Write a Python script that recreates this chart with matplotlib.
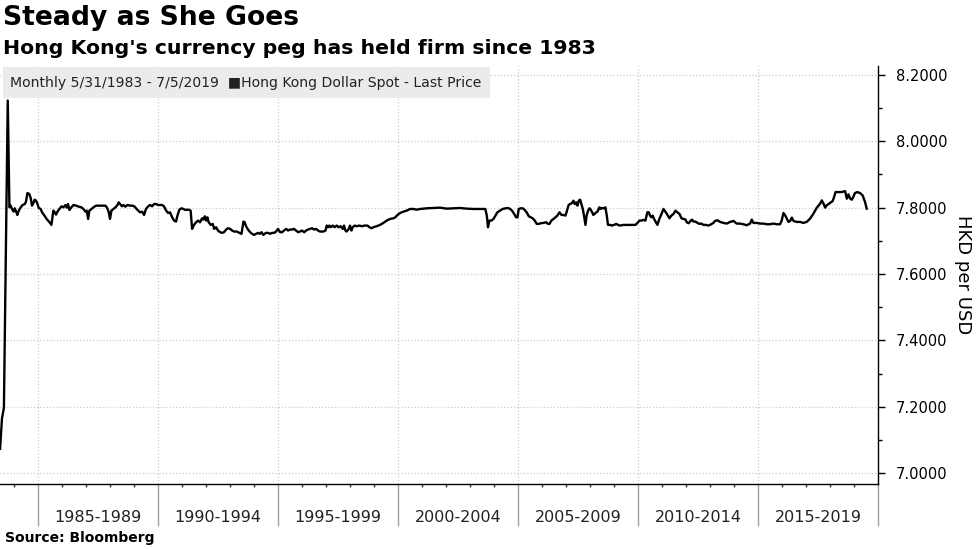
import numpy as np
import matplotlib.pyplot as plt
import matplotlib.ticker as mticker
from matplotlib.patches import Rectangle
from matplotlib.transforms import blended_transform_factory

W, H = 977, 549  # output size in pixels

# Monthly HKD per USD as (year, value)
p1983 = [(1983.42, 7.073), (1983.50, 7.165), (1983.58, 7.197), (1983.74, 8.123), (1983.81, 7.801),
         (1983.86, 7.806), (1983.92, 7.796), (1983.98, 7.788), (1984.03, 7.798), (1984.09, 7.788),
         (1984.14, 7.778), (1984.20, 7.791), (1984.28, 7.801), (1984.36, 7.808), (1984.45, 7.811),
         (1984.50, 7.818), (1984.56, 7.844), (1984.64, 7.841), (1984.70, 7.828), (1984.75, 7.806),
         (1984.81, 7.814), (1984.86, 7.824), (1984.92, 7.821), (1984.98, 7.811)]
p1985 = [(1985.03, 7.799), (1985.11, 7.796), (1985.17, 7.786), (1985.25, 7.778), (1985.36, 7.766),
         (1985.48, 7.756), (1985.56, 7.748), (1985.64, 7.791), (1985.70, 7.786), (1985.75, 7.779),
         (1985.81, 7.788), (1985.89, 7.796), (1985.98, 7.804), (1986.06, 7.801), (1986.14, 7.808),
         (1986.20, 7.800), (1986.25, 7.811), (1986.31, 7.793), (1986.39, 7.801), (1986.48, 7.808),
         (1986.59, 7.806), (1986.70, 7.803), (1986.81, 7.801), (1986.89, 7.796), (1986.98, 7.788),
         (1987.03, 7.791), (1987.09, 7.766), (1987.14, 7.791), (1987.23, 7.796), (1987.31, 7.801),
         (1987.42, 7.806), (1987.59, 7.806), (1987.81, 7.806), (1987.89, 7.798), (1987.95, 7.786),
         (1988.00, 7.766), (1988.06, 7.791), (1988.14, 7.796), (1988.23, 7.801), (1988.31, 7.808),
         (1988.36, 7.816), (1988.45, 7.808), (1988.50, 7.804), (1988.56, 7.808), (1988.64, 7.803),
         (1988.73, 7.808), (1988.84, 7.806), (1988.95, 7.806), (1989.03, 7.803), (1989.11, 7.796),
         (1989.25, 7.786), (1989.34, 7.788), (1989.42, 7.778), (1989.50, 7.796), (1989.59, 7.804),
         (1989.67, 7.808), (1989.75, 7.804), (1989.84, 7.811), (1989.92, 7.811)]
p1990 = [(1990.00, 7.808), (1990.09, 7.808), (1990.17, 7.808), (1990.25, 7.804), (1990.34, 7.791),
         (1990.42, 7.784), (1990.50, 7.786), (1990.59, 7.771), (1990.67, 7.761), (1990.75, 7.758),
         (1990.81, 7.776), (1990.89, 7.794), (1990.98, 7.798), (1991.06, 7.796), (1991.14, 7.793),
         (1991.23, 7.794), (1991.31, 7.793), (1991.36, 7.791), (1991.42, 7.736), (1991.50, 7.748),
         (1991.59, 7.756), (1991.67, 7.761), (1991.75, 7.756), (1991.84, 7.768), (1991.89, 7.764),
         (1991.95, 7.774), (1992.00, 7.761), (1992.06, 7.771), (1992.11, 7.756), (1992.20, 7.748),
         (1992.28, 7.751), (1992.34, 7.736), (1992.42, 7.741), (1992.50, 7.731), (1992.59, 7.726),
         (1992.67, 7.724), (1992.75, 7.726), (1992.84, 7.734), (1992.92, 7.738), (1993.00, 7.736),
         (1993.09, 7.731), (1993.17, 7.728), (1993.28, 7.728), (1993.39, 7.724), (1993.48, 7.721),
         (1993.56, 7.758), (1993.61, 7.756), (1993.67, 7.744), (1993.75, 7.734), (1993.84, 7.726),
         (1993.92, 7.721), (1994.00, 7.718), (1994.09, 7.721), (1994.17, 7.724), (1994.25, 7.721),
         (1994.31, 7.726), (1994.39, 7.718), (1994.50, 7.724), (1994.59, 7.724), (1994.67, 7.721),
         (1994.75, 7.724), (1994.84, 7.724), (1994.92, 7.728)]
p1995 = [(1995.00, 7.736), (1995.09, 7.726), (1995.17, 7.726), (1995.25, 7.731), (1995.34, 7.736),
         (1995.42, 7.731), (1995.50, 7.734), (1995.59, 7.734), (1995.67, 7.736), (1995.75, 7.731),
         (1995.84, 7.726), (1995.92, 7.728), (1996.00, 7.731), (1996.09, 7.726), (1996.17, 7.731),
         (1996.25, 7.734), (1996.34, 7.736), (1996.42, 7.738), (1996.50, 7.734), (1996.59, 7.736),
         (1996.67, 7.731), (1996.75, 7.728), (1996.89, 7.728), (1996.98, 7.731), (1997.03, 7.746),
         (1997.09, 7.741), (1997.14, 7.746), (1997.20, 7.741), (1997.28, 7.746), (1997.36, 7.741),
         (1997.45, 7.746), (1997.53, 7.741), (1997.61, 7.744), (1997.70, 7.736), (1997.75, 7.746),
         (1997.81, 7.731), (1997.86, 7.728), (1997.95, 7.736), (1998.00, 7.746), (1998.06, 7.731),
         (1998.11, 7.741), (1998.20, 7.746), (1998.28, 7.744), (1998.39, 7.746), (1998.50, 7.744),
         (1998.61, 7.746), (1998.73, 7.746), (1998.81, 7.741), (1998.89, 7.738), (1998.98, 7.741),
         (1999.11, 7.744), (1999.25, 7.748), (1999.39, 7.754), (1999.53, 7.761), (1999.67, 7.766),
         (1999.81, 7.768), (1999.89, 7.771)]
p2000 = [(1999.98, 7.778), (2000.09, 7.784), (2000.23, 7.788), (2000.36, 7.791), (2000.50, 7.796),
         (2000.64, 7.796), (2000.78, 7.794), (2000.92, 7.796), (2001.20, 7.798), (2001.48, 7.799),
         (2001.75, 7.800), (2002.03, 7.797), (2002.31, 7.798), (2002.59, 7.799), (2002.86, 7.797),
         (2003.14, 7.796), (2003.42, 7.796), (2003.64, 7.796), (2003.70, 7.776), (2003.75, 7.741),
         (2003.81, 7.761), (2003.89, 7.761), (2003.98, 7.766), (2004.06, 7.776), (2004.14, 7.786),
         (2004.25, 7.791), (2004.36, 7.796), (2004.48, 7.798), (2004.59, 7.799), (2004.67, 7.796),
         (2004.75, 7.791), (2004.84, 7.781), (2004.92, 7.771), (2004.98, 7.771)]
p2005 = [(2005.03, 7.796), (2005.11, 7.798), (2005.20, 7.798), (2005.28, 7.793), (2005.36, 7.786),
         (2005.45, 7.774), (2005.53, 7.771), (2005.61, 7.768), (2005.70, 7.761), (2005.78, 7.751),
         (2005.86, 7.751), (2005.95, 7.753), (2006.06, 7.754), (2006.17, 7.756), (2006.25, 7.751),
         (2006.31, 7.751), (2006.39, 7.761), (2006.48, 7.766), (2006.56, 7.771), (2006.64, 7.776),
         (2006.73, 7.786), (2006.81, 7.778), (2006.89, 7.778), (2006.98, 7.776), (2007.06, 7.796),
         (2007.11, 7.808), (2007.17, 7.811), (2007.25, 7.814), (2007.31, 7.821), (2007.36, 7.811),
         (2007.42, 7.816), (2007.48, 7.806), (2007.53, 7.821), (2007.59, 7.824), (2007.64, 7.811),
         (2007.70, 7.796), (2007.75, 7.776), (2007.81, 7.748), (2007.86, 7.776), (2007.92, 7.791),
         (2007.98, 7.798), (2008.03, 7.794), (2008.09, 7.786), (2008.14, 7.778), (2008.23, 7.784),
         (2008.31, 7.788), (2008.39, 7.801), (2008.45, 7.796), (2008.50, 7.799), (2008.59, 7.798),
         (2008.64, 7.801), (2008.70, 7.776), (2008.75, 7.748), (2008.84, 7.748), (2008.92, 7.746),
         (2009.00, 7.748), (2009.09, 7.751), (2009.17, 7.748), (2009.25, 7.746), (2009.39, 7.748),
         (2009.53, 7.748), (2009.67, 7.748), (2009.81, 7.748), (2009.89, 7.748)]
p2010 = [(2009.98, 7.754), (2010.06, 7.761), (2010.14, 7.761), (2010.23, 7.763), (2010.31, 7.761),
         (2010.39, 7.786), (2010.45, 7.786), (2010.50, 7.776), (2010.56, 7.771), (2010.61, 7.776),
         (2010.67, 7.766), (2010.75, 7.756), (2010.81, 7.748), (2010.89, 7.766), (2010.98, 7.781),
         (2011.06, 7.796), (2011.14, 7.788), (2011.23, 7.778), (2011.31, 7.768), (2011.39, 7.776),
         (2011.48, 7.781), (2011.56, 7.791), (2011.64, 7.786), (2011.73, 7.781), (2011.81, 7.768),
         (2011.89, 7.766), (2011.98, 7.764), (2012.03, 7.756), (2012.11, 7.753), (2012.20, 7.761),
         (2012.25, 7.764), (2012.31, 7.758), (2012.39, 7.758), (2012.48, 7.754), (2012.56, 7.751),
         (2012.64, 7.752), (2012.73, 7.748), (2012.84, 7.748), (2012.92, 7.746), (2013.00, 7.748),
         (2013.14, 7.754), (2013.21, 7.760), (2013.31, 7.762), (2013.42, 7.757), (2013.56, 7.754),
         (2013.70, 7.752), (2013.84, 7.757), (2013.98, 7.760), (2014.11, 7.752), (2014.25, 7.752),
         (2014.39, 7.750), (2014.53, 7.747), (2014.67, 7.752), (2014.74, 7.764), (2014.81, 7.754),
         (2014.95, 7.754)]
p2015 = [(2015.09, 7.752), (2015.23, 7.752), (2015.36, 7.750), (2015.50, 7.750), (2015.64, 7.752),
         (2015.78, 7.750), (2015.92, 7.750), (2015.99, 7.762), (2016.06, 7.784), (2016.13, 7.777),
         (2016.20, 7.767), (2016.27, 7.757), (2016.34, 7.760), (2016.41, 7.770), (2016.48, 7.760),
         (2016.61, 7.757), (2016.75, 7.757), (2016.89, 7.754), (2017.03, 7.757), (2017.17, 7.767),
         (2017.31, 7.782), (2017.45, 7.800), (2017.59, 7.812), (2017.66, 7.822), (2017.73, 7.812),
         (2017.80, 7.800), (2017.86, 7.807), (2018.00, 7.814), (2018.11, 7.820), (2018.17, 7.832),
         (2018.23, 7.847), (2018.35, 7.847), (2018.49, 7.847), (2018.63, 7.850), (2018.70, 7.827),
         (2018.77, 7.840), (2018.84, 7.827), (2018.91, 7.824), (2018.98, 7.834), (2019.04, 7.844),
         (2019.14, 7.847), (2019.25, 7.844), (2019.36, 7.837), (2019.46, 7.817), (2019.53, 7.797)]

period_starts = [1985, 1990, 1995, 2000, 2005, 2010, 2015]
period_labels = ['1985-1989', '1990-1994', '1995-1999', '2000-2004',
                 '2005-2009', '2010-2014', '2015-2019']

data = np.array(p1983 + p1985 + p1990 + p1995 + p2000 + p2005 + p2010 + p2015)
years, hkd = data[:, 0], data[:, 1]

plt.rcParams['font.family'] = 'DejaVu Sans'

fig = plt.figure(figsize=(W / 100, H / 100), dpi=100)
ax = fig.add_axes([0, 1 - 484 / H, 878 / W, 418 / H])

ax.plot(years, hkd, color='black', lw=1.7, zorder=3)

ax.set_xlim(1983.417, 2020.0)
ax.set_ylim(6.967, 8.227)

# spines
for s in ['left', 'top']:
    ax.spines[s].set_visible(False)
ax.spines['right'].set_linewidth(1)
ax.spines['bottom'].set_linewidth(1)

# y axis on the right
ax.yaxis.tick_right()
ax.yaxis.set_major_locator(mticker.MultipleLocator(0.2))
ax.yaxis.set_minor_locator(mticker.MultipleLocator(0.1))
ax.yaxis.set_major_formatter(mticker.FormatStrFormatter('%.4f'))
ax.tick_params(axis='y', which='major', direction='out', length=5, width=1,
               labelsize=10.5, pad=8, colors='black')
ax.tick_params(axis='y', which='minor', direction='out', length=3, width=1)

# x axis: long grey dividers every 5 years, small yearly ticks
ax.xaxis.set_major_locator(mticker.FixedLocator(list(range(1985, 2021, 5))))
ax.xaxis.set_minor_locator(mticker.MultipleLocator(1))
ax.xaxis.set_major_formatter(mticker.NullFormatter())
ax.tick_params(axis='x', which='major', direction='out', length=30, width=1, color='#a0a0a0')
ax.tick_params(axis='x', which='minor', direction='out', length=2.5, width=1, color='#333333')

ax.grid(True, which='major', ls=':', color='#cccccc', lw=0.9)
ax.set_axisbelow(True)

trans = blended_transform_factory(ax.transData, fig.transFigure)
for start, lab in zip(period_starts, period_labels):
    ax.text(start + 2.5, 1 - 517 / H, lab, transform=trans, ha='center', va='center',
            fontsize=11.5, color='#222222')

fig.text(963 / W, 1 - 275 / H, 'HKD per USD', rotation=270, ha='center', va='center',
         fontsize=13)

# titles
fig.text(3 / W, 1 - 18 / H, 'Steady as She Goes', fontsize=19.2, fontweight='bold',
         ha='left', va='center')
fig.text(3 / W, 1 - 48 / H, "Hong Kong's currency peg has held firm since 1983", fontsize=14.7,
         fontweight='bold', ha='left', va='center')

# legend strip
fig.add_artist(Rectangle((3 / W, 1 - 98 / H), 487 / W, 31 / H, transform=fig.transFigure,
                         facecolor='#ebebeb', edgecolor='none', zorder=2))
fig.text(10 / W, 1 - 83 / H, 'Monthly 5/31/1983 - 7/5/2019  \u25A0Hong Kong Dollar Spot - Last Price',
         fontsize=10.1, ha='left', va='center', color='#222222', zorder=3)

fig.text(5 / W, 1 - 538 / H, 'Source: Bloomberg', fontsize=10, fontweight='bold',
         ha='left', va='center')

fig.savefig('out.png', dpi=100)
